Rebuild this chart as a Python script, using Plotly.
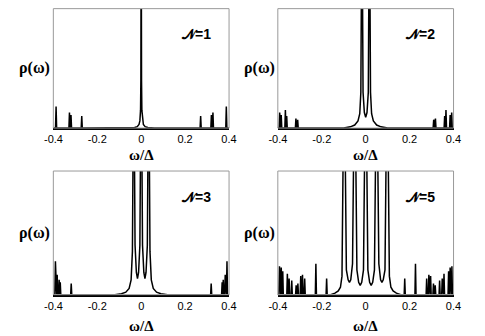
import plotly.graph_objects as go

# tick labels shared by all four panels
tick_vals = [-0.4, -0.2, 0, 0.2, 0.4]
tick_text = ["-0.4", "-0.2", "0", "0.2", "0.4"]
panel_n = ["1", "2", "3", "5"]

# central peak structure (heights as fraction of axis height, >1 means clipped)
center_x1 = [-0.06, -0.03, -0.018, -0.01, -0.006, -0.003, -0.0015, 0.0,
             0.0015, 0.003, 0.006, 0.01, 0.018, 0.03, 0.06]
center_y1 = [0.0, 0.004, 0.012, 0.03, 0.06, 0.15, 0.4, 2.0,
             0.4, 0.15, 0.06, 0.03, 0.012, 0.004, 0.0]

center_x2 = [-0.1, -0.07, -0.05, -0.035, -0.027, -0.022, -0.017, -0.012, -0.006, 0.0,
             0.006, 0.012, 0.017, 0.022, 0.027, 0.035, 0.05, 0.07, 0.1]
center_y2 = [0.0, 0.01, 0.025, 0.06, 0.12, 0.3, 2.0, 0.3, 0.13, 0.09,
             0.13, 0.3, 2.0, 0.3, 0.12, 0.06, 0.025, 0.01, 0.0]

center_x3 = [-0.12, -0.09, -0.07, -0.055, -0.046, -0.04, -0.034, -0.028, -0.022, -0.017, -0.012, -0.006, 0.0,
             0.006, 0.012, 0.017, 0.022, 0.028, 0.034, 0.04, 0.046, 0.055, 0.07, 0.09, 0.12]
center_y3 = [0.0, 0.008, 0.02, 0.05, 0.12, 0.35, 2.0, 0.4, 0.18, 0.13, 0.18, 0.4, 2.0,
             0.4, 0.18, 0.13, 0.18, 0.4, 2.0, 0.35, 0.12, 0.05, 0.02, 0.008, 0.0]

center_x5 = [-0.16, -0.14, -0.125, -0.115, -0.108, -0.098, -0.088, -0.08, -0.074, -0.068, -0.06,
             -0.05, -0.04, -0.032, -0.025, -0.018, -0.01, 0.0,
             0.01, 0.018, 0.025, 0.032, 0.04, 0.05,
             0.06, 0.068, 0.074, 0.08, 0.088, 0.098, 0.108, 0.115, 0.125, 0.14, 0.16]
center_y5 = [0.0, 0.012, 0.03, 0.06, 0.15, 2.0, 0.2, 0.12, 0.10, 0.12, 0.25,
             2.0, 0.2, 0.1, 0.075, 0.1, 0.2, 2.0,
             0.2, 0.1, 0.075, 0.1, 0.2, 2.0,
             0.25, 0.12, 0.10, 0.12, 0.2, 2.0, 0.15, 0.06, 0.03, 0.012, 0.0]

# narrow satellite spikes
sat_x1 = [-0.388, -0.327, -0.32, -0.271, 0.271, 0.32, 0.327, 0.388]
sat_y1 = [0.18, 0.13, 0.11, 0.10, 0.10, 0.11, 0.13, 0.18]

sat_x2 = [-0.392, -0.385, -0.366, -0.36, -0.318, -0.31, 0.31, 0.318, 0.36, 0.366, 0.385, 0.392]
sat_y2 = [0.13, 0.11, 0.15, 0.10, 0.08, 0.07, 0.07, 0.08, 0.10, 0.15, 0.11, 0.13]

sat_x3 = [-0.391, -0.383, -0.374, -0.369, -0.319, 0.319, 0.369, 0.374, 0.383, 0.391]
sat_y3 = [0.27, 0.16, 0.12, 0.10, 0.09, 0.09, 0.10, 0.12, 0.16, 0.27]

sat_x5 = [-0.393, -0.385, -0.378, -0.357, -0.349, -0.337, -0.317, -0.309, -0.296, -0.288, -0.278,
          -0.227, -0.178,
          0.178, 0.227,
          0.278, 0.288, 0.296, 0.309, 0.317, 0.337, 0.349, 0.357, 0.378, 0.385, 0.393]
sat_y5 = [0.23, 0.22, 0.19, 0.17, 0.13, 0.115, 0.075, 0.09, 0.15, 0.16, 0.13,
          0.25, 0.13,
          0.13, 0.25,
          0.13, 0.16, 0.15, 0.09, 0.075, 0.115, 0.13, 0.17, 0.19, 0.22, 0.23]

panels = [
    (center_x1, center_y1, sat_x1, sat_y1),
    (center_x2, center_y2, sat_x2, sat_y2),
    (center_x3, center_y3, sat_x3, sat_y3),
    (center_x5, center_y5, sat_x5, sat_y5),
]

# page body has an 8px margin, so the figure is 477x328 and sits at (8, 8)
x_domains = [[0.079, 0.461], [0.567, 0.949], [0.079, 0.461], [0.567, 0.949]]
y_domains = [[0.634, 0.998], [0.634, 0.998], [0.126, 0.503], [0.126, 0.503]]

SERIF = "Liberation Serif, Times New Roman, serif"
SANS = "Liberation Sans, Arial, sans-serif"


def build_curve(cx, cy, sx, sy, hw=0.0025):
    pts = [(-0.41, 0.0), (0.41, 0.0)]
    pts += list(zip(cx, cy))
    for x, h in zip(sx, sy):
        pts += [(x - hw, 0.0), (x, h), (x + hw, 0.0)]
    pts.sort(key=lambda p: p[0])
    return [p[0] for p in pts], [p[1] for p in pts]


fig = go.Figure()
annotations = []
shapes = []
for i, (cx, cy, sx, sy) in enumerate(panels):
    n = "" if i == 0 else str(i + 1)
    xs, ys = build_curve(cx, cy, sx, sy)
    fig.add_trace(go.Scatter(x=xs, y=ys, mode="lines",
                             line=dict(color="black", width=1.5),
                             xaxis="x" + n, yaxis="y" + n, showlegend=False))
    fig.layout["xaxis" + n] = dict(
        domain=x_domains[i], anchor="y" + n, range=[-0.4005, 0.4005],
        tickvals=tick_vals, ticktext=tick_text, showgrid=False, zeroline=False,
        showline=True, linecolor="black", linewidth=1.5, ticks="",
        tickfont=dict(family=SANS, size=11, color="black"))
    fig.layout["yaxis" + n] = dict(
        domain=y_domains[i], anchor="x" + n, range=[0, 1],
        showticklabels=False, showgrid=False, zeroline=False, showline=False)
    shapes.append(dict(type="rect", xref="x" + n + " domain", yref="y" + n + " domain",
                       x0=0, x1=1, y0=0, y1=1, line=dict(color="#999999", width=1)))
    xd, yd = x_domains[i], y_domains[i]
    label = "<span style='font-family:DejaVu Serif'>𝒩</span>=" + panel_n[i]
    annotations.append(dict(text=label, xref="x" + n + " domain", yref="y" + n + " domain",
                            x=0.81, y=0.79, xanchor="center", yanchor="middle", showarrow=False,
                            font=dict(family=SANS, size=14, color="black", weight="bold")))
    annotations.append(dict(text="ρ(ω)", xref="paper", yref="paper",
                            x=xd[0] - 0.04, y=(yd[0] + yd[1]) / 2,
                            xanchor="center", yanchor="middle", showarrow=False,
                            font=dict(family=SERIF, size=16, color="black", weight="bold")))
    title_y = 0.553 if i < 2 else 0.03
    annotations.append(dict(text="ω/Δ", xref="paper", yref="paper",
                            x=(xd[0] + xd[1]) / 2, y=title_y,
                            xanchor="center", yanchor="middle", showarrow=False,
                            font=dict(family=SERIF, size=15, color="black", weight="bold")))

fig.update_layout(width=477, height=328, margin=dict(l=0, r=0, t=0, b=0),
                  plot_bgcolor="white", paper_bgcolor="white",
                  annotations=annotations, shapes=shapes)

fig.write_html("out.html")
